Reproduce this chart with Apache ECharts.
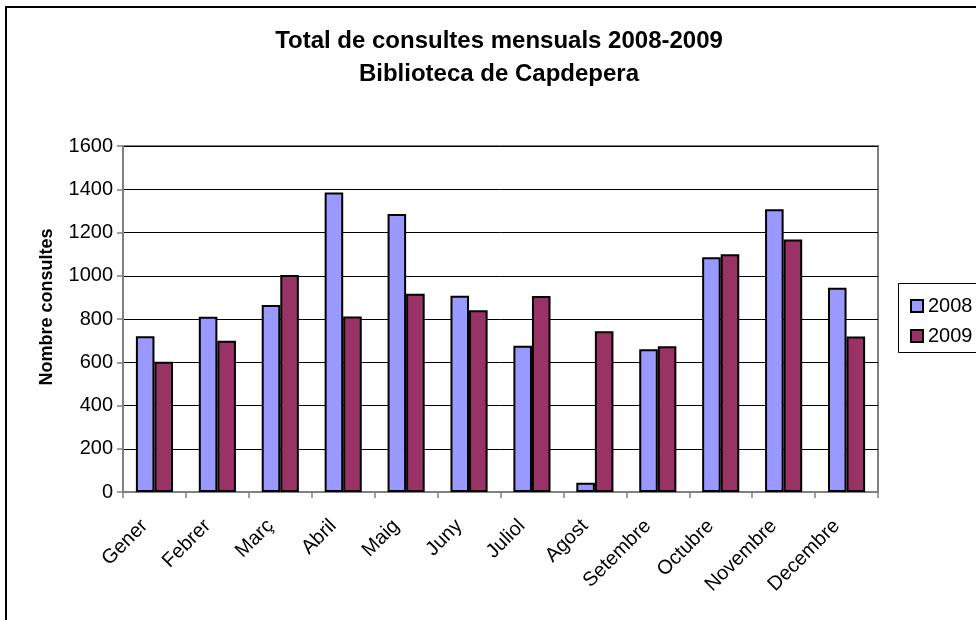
<!DOCTYPE html>
<html>
<head>
<meta charset="utf-8">
<script src="https://cdn.jsdelivr.net/npm/echarts@6/dist/echarts.min.js"></script>
<style>html,body{margin:0;padding:0;background:#fff}#c{width:976px;height:620px}</style>
</head>
<body>
<div id="c"></div>
<script>
const months = ['Gener','Febrer','Març','Abril','Maig','Juny','Juliol','Agost','Setembre','Octubre','Novembre','Decembre'];
const values2008 = [720, 810, 865, 1385, 1285, 907, 676, 43, 660, 1086, 1307, 944];
const values2009 = [602, 700, 1004, 812, 917, 840, 906, 743, 674, 1099, 1168, 719];
const seriesNames = ['2008', '2009'];
const yTicks = {min: 0, max: 1600, interval: 200};

const FONT = '"Liberation Sans", Arial, sans-serif';
const chart = echarts.init(document.getElementById('c'), null, {renderer: 'canvas'});
chart.setOption({
  animation: false,
  backgroundColor: '#fff',
  textStyle: {fontFamily: FONT, color: '#000'},
  title: {
    text: 'Total de consultes mensuals 2008-2009\nBiblioteca de Capdepera',
    left: 494, top: 20, textAlign: 'center',
    textStyle: {fontFamily: FONT, fontSize: 24, fontWeight: 'bold', lineHeight: 33, color: '#000', align: 'center'}
  },
  grid: {
    left: 123, right: 98, top: 146, bottom: 128,
    show: true, borderColor: '#808080', borderWidth: 2, containLabel: false
  },
  legend: {
    orient: 'vertical', left: 905, top: 291, itemGap: 10,
    itemWidth: 12, itemHeight: 12, icon: 'rect',
    textStyle: {fontFamily: FONT, fontSize: 20, color: '#000', padding: [0,0,0,0]},
    itemStyle: {borderColor: '#000', borderWidth: 2},
    data: seriesNames
  },
  xAxis: {
    type: 'category', data: months,
    axisLine: {lineStyle: {color: '#808080', width: 2}},
    axisTick: {show: true, alignWithLabel: false, length: 6, lineStyle: {color: '#808080', width: 1.5}},
    axisLabel: {rotate: 45, interval: 0, fontSize: 20, fontFamily: FONT, color: '#000', margin: 21, padding: [0, 14, 0, 0]}
  },
  yAxis: {
    type: 'value', min: yTicks.min, max: yTicks.max, interval: yTicks.interval,
    name: 'Nombre consultes', nameLocation: 'middle', nameGap: 67,
    nameTextStyle: {fontFamily: FONT, fontSize: 18, fontWeight: 'bold', color: '#000', padding: [0, 0, 0, 24]},
    axisLine: {show: true, lineStyle: {color: '#808080', width: 2}},
    axisTick: {show: true, length: 6, lineStyle: {color: '#808080', width: 1.5}},
    axisLabel: {fontSize: 20, fontFamily: FONT, color: '#000', margin: 10, formatter: v => String(v)},
    splitLine: {lineStyle: {color: '#000', width: 1}}
  },
  series: [
    {name: seriesNames[0], type: 'bar', data: values2008, barGap: '0%', barCategoryGap: '41%',
     itemStyle: {color: '#9999FF', borderColor: '#000', borderWidth: 2}},
    {name: seriesNames[1], type: 'bar', data: values2009, barGap: '0%', barCategoryGap: '41%',
     itemStyle: {color: '#993366', borderColor: '#000', borderWidth: 2}}
  ],
  graphic: [
    {type: 'rect', shape: {x: 6, y: 7, width: 1000, height: 700}, style: {fill: 'none', stroke: '#000', lineWidth: 2}, silent: true},
    {type: 'rect', shape: {x: 898.5, y: 283.5, width: 100, height: 69}, style: {fill: 'none', stroke: '#000', lineWidth: 1}, silent: true}
  ]
});
</script>
</body>
</html>
